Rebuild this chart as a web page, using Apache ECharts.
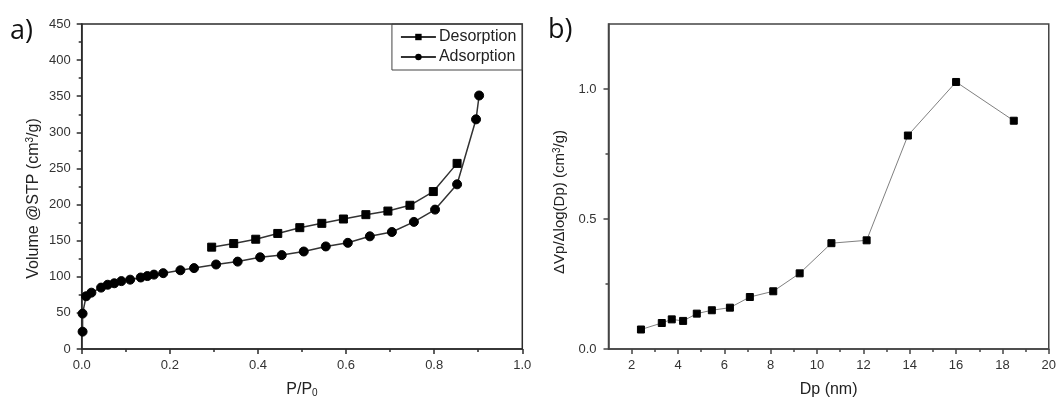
<!DOCTYPE html>
<html>
<head>
<meta charset="utf-8">
<script src="https://cdn.jsdelivr.net/npm/echarts@6/dist/echarts.min.js"></script>
<style>
  html, body { margin: 0; padding: 0; background: #fff; }
  #chart { width: 1059px; height: 403px; }
  .tag { position: absolute; font-family: "Open Sans", "DejaVu Sans", sans-serif; font-size: 27px; color: #111; line-height: 1; }
</style>
</head>
<body>
<div id="chart"></div>
<div class="tag" style="left:10px; top:15px;">a)</div>
<div class="tag" style="left:548px; top:14px;">b)</div>
<script>
// Panel a: N2 isotherm, relative pressure vs adsorbed volume
const adsPressure = [0.002, 0.002, 0.010, 0.022, 0.044, 0.059, 0.074, 0.090, 0.110, 0.134, 0.149, 0.164, 0.185,
  0.224, 0.255, 0.305, 0.354, 0.405, 0.454, 0.504, 0.554, 0.604, 0.654, 0.704, 0.754, 0.802, 0.852, 0.895, 0.902];
const adsVolume = [24, 49, 73, 78, 85, 89, 91, 94, 96, 99, 101, 103, 105,
  109, 112, 117, 121, 127, 130, 135, 142, 147, 156, 162, 176, 193, 228, 318, 351];
const desPressure = [0.295, 0.345, 0.395, 0.445, 0.495, 0.545, 0.594, 0.645, 0.695, 0.745, 0.798, 0.852];
const desVolume = [141, 146, 152, 160, 168, 174, 180, 186, 191, 199, 218, 257];

// Panel b: pore size distribution
const poreDiameter = [2.40, 3.30, 3.73, 4.22, 4.81, 5.46, 6.24, 7.10, 8.11, 9.25, 10.62, 12.14, 13.92, 16.00, 18.49];
const poreVolume = [0.075, 0.100, 0.114, 0.108, 0.136, 0.149, 0.159, 0.200, 0.222, 0.291, 0.407, 0.418, 0.821, 1.027, 0.878];

// Tick positions for panel b
const dpTicks = [2, 4, 6, 8, 10, 12, 14, 16, 18, 20];
const dpMinorTicks = [3, 5, 7, 9, 11, 13, 15, 17, 19];
const dvTicks = [0, 0.5, 1.0];
const dvMinorTicks = [0.25, 0.75];

const FONT = '"Liberation Sans", Arial, sans-serif';
const pair = (xs, ys) => xs.map((x, i) => [x, ys[i]]);

const chart = echarts.init(document.getElementById('chart'), null, { renderer: 'canvas' });

const axisLineA = { show: true, lineStyle: { color: '#2b2b2b', width: 1.5 } };
const axisLineB = { show: true, lineStyle: { color: '#444', width: 1.5 } };
const labelStyle = { fontSize: 13, color: '#333', fontFamily: FONT };
const nameStyle = {
  fontSize: 16, color: '#222', fontFamily: FONT,
  rich: {
    sup: { fontSize: 10, color: '#222', fontFamily: FONT, verticalAlign: 'top' },
    sub: { fontSize: 10, color: '#222', fontFamily: FONT, verticalAlign: 'bottom' }
  }
};

chart.setOption({
  animation: false,
  backgroundColor: '#fff',
  grid: [
    { left: 81.7, top: 24, width: 440.6, height: 326.7, show: true, borderColor: '#2b2b2b', borderWidth: 1.5, containLabel: false },
    { left: 608.5, top: 24, width: 442, height: 325, show: true, borderColor: '#444', borderWidth: 1.5, containLabel: false }
  ],
  legend: {
    gridIndex: 0,
    data: ['Desorption', 'Adsorption'],
    orient: 'vertical',
    right: 536.7,
    top: 24,
    padding: [5, 6, 5, 8],
    itemGap: 4,
    itemWidth: 35,
    itemHeight: 8,
    borderColor: '#444',
    borderWidth: 1,
    textStyle: { fontSize: 16, color: '#222', fontFamily: FONT, padding: [0, 0, 0, -2] }
  },
  xAxis: [
    {
      type: 'value', gridIndex: 0, min: 0, max: 1, interval: 0.2,
      axisLine: axisLineA,
      axisTick: { show: true, inside: false, length: 5, lineStyle: { color: '#2b2b2b', width: 1.5 } },
      minorTick: { show: true, splitNumber: 2, length: 3, lineStyle: { color: '#2b2b2b', width: 1.5 } },
      splitLine: { show: false },
      axisLabel: Object.assign({ margin: 10, formatter: v => v.toFixed(1) }, labelStyle),
      name: 'P/P{sub|0}', nameLocation: 'middle', nameGap: 33, nameTextStyle: nameStyle
    },
    {
      type: 'value', gridIndex: 1, min: 1, max: 20,
      axisLine: axisLineB,
      axisTick: { show: true, inside: false, length: 5, customValues: dpTicks, lineStyle: { color: '#444', width: 1.5 } },
      splitLine: { show: false },
      axisLabel: Object.assign({ margin: 10, customValues: dpTicks }, labelStyle),
      name: 'Dp (nm)', nameLocation: 'middle', nameGap: 33, nameTextStyle: nameStyle
    },
    {
      type: 'value', gridIndex: 1, min: 1, max: 20, position: 'bottom',
      axisLine: { show: false },
      axisTick: { show: true, inside: false, length: 3, customValues: dpMinorTicks, lineStyle: { color: '#444', width: 1.5 } },
      splitLine: { show: false },
      axisLabel: { show: false }
    }
  ],
  yAxis: [
    {
      type: 'value', gridIndex: 0, min: 0, max: 450, interval: 50,
      axisLine: axisLineA,
      axisTick: { show: true, inside: false, length: 5, lineStyle: { color: '#2b2b2b', width: 1.5 } },
      minorTick: { show: true, splitNumber: 2, length: 3, lineStyle: { color: '#2b2b2b', width: 1.5 } },
      splitLine: { show: false },
      axisLabel: Object.assign({ margin: 11 }, labelStyle),
      name: 'Volume @STP (cm{sup|3}/g)', nameLocation: 'middle', nameGap: 40,
      nameTextStyle: Object.assign({ padding: [0, 24, 0, 0] }, nameStyle)
    },
    {
      type: 'value', gridIndex: 1, min: 0, max: 1.25,
      axisLine: axisLineB,
      axisTick: { show: true, inside: false, length: 5, customValues: dvTicks, lineStyle: { color: '#444', width: 1.5 } },
      splitLine: { show: false },
      axisLabel: Object.assign({ margin: 12, customValues: dvTicks, formatter: v => v.toFixed(1) }, labelStyle),
      name: '\u0394Vp/\u0394log(Dp) (cm{sup|3}/g)', nameLocation: 'middle', nameGap: 41,
      nameTextStyle: Object.assign({}, nameStyle, { fontSize: 15, padding: [0, 31, 0, 0] })
    },
    {
      type: 'value', gridIndex: 1, min: 0, max: 1.25, position: 'left',
      axisLine: { show: false },
      axisTick: { show: true, inside: false, length: 3, customValues: dvMinorTicks, lineStyle: { color: '#444', width: 1.5 } },
      splitLine: { show: false },
      axisLabel: { show: false }
    }
  ],
  series: [
    {
      name: 'Desorption', type: 'line', xAxisIndex: 0, yAxisIndex: 0,
      data: pair(desPressure, desVolume),
      symbol: 'rect', symbolSize: 8, showAllSymbol: true,
      lineStyle: { color: '#333', width: 1.5 },
      itemStyle: { color: '#000', borderColor: '#000' }
    },
    {
      name: 'Adsorption', type: 'line', xAxisIndex: 0, yAxisIndex: 0,
      data: pair(adsPressure, adsVolume),
      symbol: 'circle', symbolSize: 9, showAllSymbol: true,
      lineStyle: { color: '#333', width: 1.5 },
      itemStyle: { color: '#000', borderColor: '#000' }
    },
    {
      name: 'PSD', type: 'line', xAxisIndex: 1, yAxisIndex: 1,
      data: pair(poreDiameter, poreVolume),
      symbol: 'rect', symbolSize: 7, showAllSymbol: true,
      lineStyle: { color: '#808080', width: 1 },
      itemStyle: { color: '#000', borderColor: '#000' }
    }
  ]
});
</script>
</body>
</html>
